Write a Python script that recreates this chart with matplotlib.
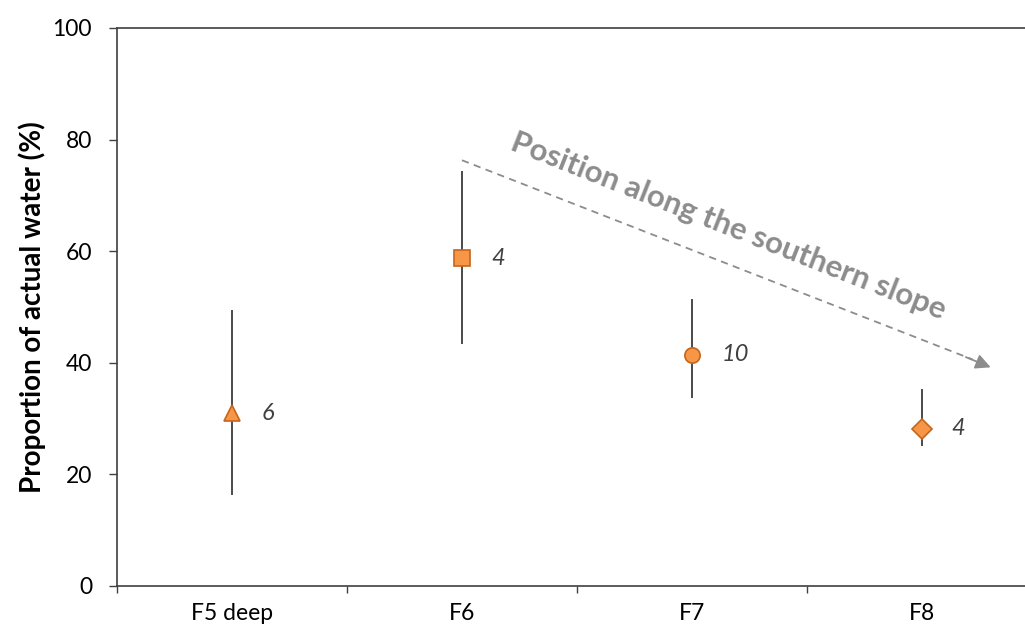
import matplotlib.pyplot as plt

plt.rcParams['font.family'] = ['Lato', 'DejaVu Sans']

# data
sites = ["F5 deep", "F6", "F7", "F8"]
means = [31.0, 58.7, 41.4, 28.2]
err_low = [16.5, 43.5, 33.9, 25.3]
err_high = [49.2, 74.2, 51.3, 35.1]
n_samples = [6, 4, 10, 4]
markers = ["^", "s", "o", "D"]
marker_sizes = [11, 11, 11, 10]

ORANGE = "#F79646"
EDGE = "#C5651C"
DARK = "#404040"

fig = plt.figure(figsize=(10.25, 6.35), dpi=100)
ax = fig.add_axes([117 / 1025, 49 / 635, 908 / 1025, 558 / 635])

x = list(range(len(sites)))
for i in x:
    ax.plot([i, i], [err_low[i], err_high[i]], color="#4a4a4a", lw=1.4, zorder=2)
    ax.plot(i, means[i], marker=markers[i], ms=marker_sizes[i], mfc=ORANGE,
            mec=EDGE, mew=1.2, ls="none", zorder=3)
    ax.annotate(str(n_samples[i]), (i, means[i]), xytext=(21, 0),
                textcoords="offset points", ha="left", va="center",
                fontsize=17, style="italic", color=DARK)

# slope arrow
ax.plot([1.0, 3.22], [76.3, 40.6], ls=(0, (4, 3)), color="#8C8C8C", lw=1.3, zorder=1)
ax.annotate("", xy=(3.31, 39.0), xytext=(3.18, 41.2),
            arrowprops=dict(arrowstyle="-|>,head_length=0.9,head_width=0.45",
                            color="#8C8C8C", lw=1.3))
ax.text(2.16, 64.5, "Position along the southern slope", rotation=-21.5,
        rotation_mode="anchor", ha="center", va="center", fontsize=22.5,
        fontweight="bold", color="#8C8C8C")

ax.set_xlim(-0.5, 3.448)
ax.set_ylim(0, 100)
ax.set_yticks([0, 20, 40, 60, 80, 100])
ax.set_xticks(x)
ax.set_xticklabels(sites)
ax.set_xticks([-0.5, 0.5, 1.5, 2.5], minor=True)
ax.tick_params(axis="x", which="major", length=0, pad=12, labelsize=16.5)
ax.tick_params(axis="x", which="minor", length=5, width=1, color=DARK)
ax.tick_params(axis="y", length=6, width=1, color=DARK, labelsize=16.5, pad=12)
ax.set_ylabel("Proportion of actual water (%)", fontsize=20, fontweight="bold",
              labelpad=5)

for s in ["left", "bottom", "top"]:
    ax.spines[s].set_color(DARK)
    ax.spines[s].set_linewidth(1.2)
ax.spines["right"].set_visible(False)

fig.savefig("out.png", dpi=100)
